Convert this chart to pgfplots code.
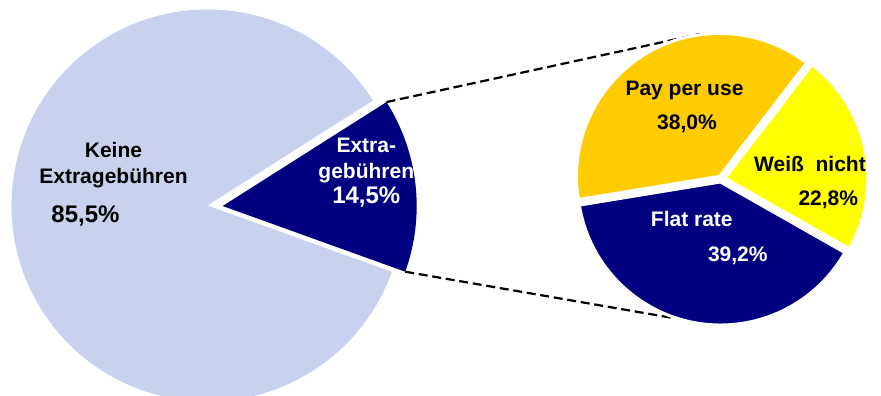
\documentclass[border=0pt]{standalone}
\usepackage{pgfplots}
\usepackage{pgfplotstable}
\pgfplotsset{compat=1.18}
\usepackage{fontspec}
\setmainfont{Liberation Sans}
\definecolor{lightpie}{RGB}{200,210,239}
\definecolor{navypie}{RGB}{0,0,128}
\definecolor{orangepie}{RGB}{255,204,0}
\definecolor{yellowpie}{RGB}{255,255,0}

% left pie: share of respondents
\pgfplotstableread{
label value
Extra 14.5
Keine 85.5
}\lefttable
% right pie: breakdown of "Extragebuehren"
\pgfplotstableread{
label value
Pay 38.0
Flat 39.2
Weiss 22.8
}\righttable

\begin{document}
\begin{tikzpicture}
\pgfplotstablegetelem{0}{value}\of\lefttable\edef\vExtra{\pgfplotsretval}
\pgfplotstablegetelem{1}{value}\of\lefttable\edef\vKeine{\pgfplotsretval}
\pgfplotstablegetelem{0}{value}\of\righttable\edef\vPay{\pgfplotsretval}
\pgfplotstablegetelem{1}{value}\of\righttable\edef\vFlat{\pgfplotsretval}
\pgfplotstablegetelem{2}{value}\of\righttable\edef\vWeiss{\pgfplotsretval}
% angles
\pgfmathsetmacro\aA{-19.8}
\pgfmathsetmacro\aB{\aA+3.6*\vExtra}
\pgfmathsetmacro\aC{\aB+3.6*\vKeine}
\pgfmathsetmacro\bA{52.5}
\pgfmathsetmacro\bB{\bA+3.6*\vPay}
\pgfmathsetmacro\bC{\bB+3.6*\vFlat}
\pgfmathsetmacro\bD{\bC+3.6*\vWeiss}
\pgfmathsetmacro\tAx{222.7+194*cos(\aB)}
\pgfmathsetmacro\tAy{190+194*sin(\aB)}
\pgfmathsetmacro\tBx{222.7+194*cos(\aA)}
\pgfmathsetmacro\tBy{190+194*sin(\aA)}
\begin{axis}[scale only axis, width=881pt, height=396pt,
  xmin=0, xmax=881, ymin=0, ymax=396, hide axis, clip=true]
% left pie
\fill[lightpie] (axis cs:207.5,190.5) -- ++(\aB:196pt) arc[start angle=\aB, end angle=\aC, radius=196pt] -- cycle;
\fill[navypie] (axis cs:222.7,190) -- ++(\aA:194pt) arc[start angle=\aA, end angle=\aB, radius=194pt] -- cycle;
% connectors
\draw[black, line width=2.2pt, dash pattern=on 9pt off 4.7pt] (axis cs:\tAx,\tAy) -- (axis cs:700,362);
\draw[black, line width=2.2pt, dash pattern=on 9pt off 4.7pt] (axis cs:\tBx,\tBy) -- (axis cs:673,78);
% right pie
\filldraw[orangepie, draw=white, line width=3pt, line join=round] (axis cs:719.5,219.6) -- ++(\bA:143pt) arc[start angle=\bA, end angle=\bB, radius=143pt] -- cycle;
\filldraw[navypie, draw=white, line width=3pt, line join=round] (axis cs:720.5,214.0) -- ++(\bB:143pt) arc[start angle=\bB, end angle=\bC, radius=143pt] -- cycle;
\filldraw[yellowpie, draw=white, line width=3pt, line join=round] (axis cs:724.9,217.8) -- ++(\bC:143pt) arc[start angle=\bC, end angle=\bD, radius=143pt] -- cycle;
% labels
\begin{scope}[every node/.style={anchor=base, inner sep=0pt, font=\bfseries\fontsize{21}{25}\selectfont}]
\node at (axis cs:113.5,238.3) {Keine};
\node at (axis cs:113.5,212) {Extragebühren};
\node[font=\bfseries\fontsize{24}{28}\selectfont] at (axis cs:85.5,173.3) {85,5\%};
\node[white] at (axis cs:366.3,243.3) {Extra-};
\node[white] at (axis cs:366.3,217.7) {gebühren};
\node[white, font=\bfseries\fontsize{24}{28}\selectfont] at (axis cs:366.3,192) {14,5\%};
\node at (axis cs:684.5,300.3) {Pay per use};
\node at (axis cs:687,266) {38,0\%};
\node at (axis cs:810,224.3) {Weiß\ \ nicht};
\node at (axis cs:828.3,190) {22,8\%};
\node[white] at (axis cs:691.8,169.3) {Flat rate};
\node[white] at (axis cs:737.8,134.3) {39,2\%};
\end{scope}
\end{axis}
\end{tikzpicture}
\end{document}
